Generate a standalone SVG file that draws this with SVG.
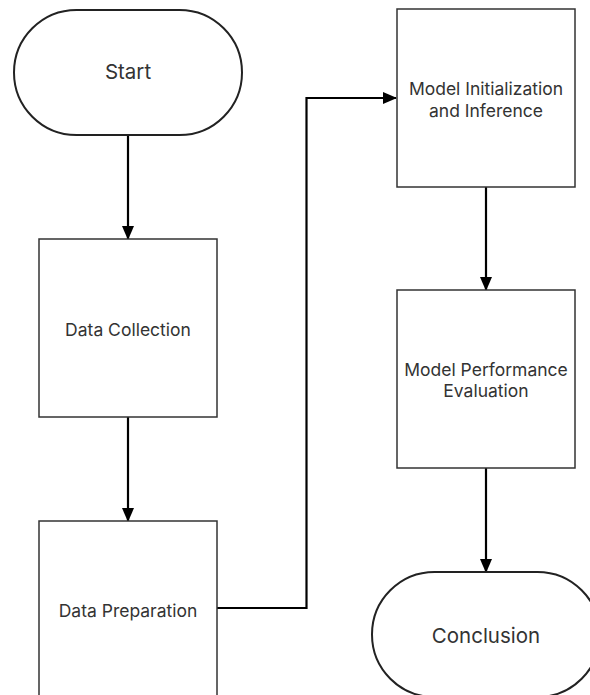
<svg xmlns="http://www.w3.org/2000/svg" width="590" height="695" viewBox="0 0 590 695">
  <style>
    .shape { fill: #ffffff; stroke: #333333; stroke-width: 1.5; }
    .term { fill: #ffffff; stroke: #222222; stroke-width: 2; }
    .label { font-family: Inter, "Liberation Sans", sans-serif; font-size: 17.5px; fill: #333333; text-anchor: middle; }
    .big { font-size: 20.5px; }
    .edge { fill: none; stroke: #000000; stroke-width: 2.2; }
  </style>
  <defs>
    <marker id="arrow" viewBox="0 0 14 12" refX="13" refY="6" markerWidth="14" markerHeight="12" markerUnits="userSpaceOnUse" orient="auto">
      <path d="M0,0 L14,6 L0,12 Z" fill="#000000"/>
    </marker>
  </defs>
  <rect width="590" height="695" fill="#ffffff"/>

  <g id="connectors">
    <path class="edge" d="M128,135 L128,239" marker-end="url(#arrow)"/>
    <path class="edge" d="M128,417 L128,521" marker-end="url(#arrow)"/>
    <path class="edge" d="M217,608 L306.5,608 L306.5,98 L396,98" marker-end="url(#arrow)"/>
    <path class="edge" d="M486,187 L486,290" marker-end="url(#arrow)"/>
    <path class="edge" d="M486,468 L486,572" marker-end="url(#arrow)"/>
  </g>

  <g id="start">
    <rect class="term" x="14" y="10" width="228" height="125" rx="62.5" ry="62.5"/>
    <text class="label big" x="128" y="79">Start</text>
  </g>

  <g id="data-collection">
    <rect class="shape" x="39" y="239" width="178" height="178"/>
    <text class="label" x="128" y="336">Data Collection</text>
  </g>

  <g id="data-preparation">
    <rect class="shape" x="39" y="521" width="178" height="200"/>
    <text class="label" x="128" y="617">Data Preparation</text>
  </g>

  <g id="model-initialization">
    <rect class="shape" x="397" y="9" width="178" height="178"/>
    <text class="label" x="486" y="95">Model Initialization</text>
    <text class="label" x="486" y="117">and Inference</text>
  </g>

  <g id="model-evaluation">
    <rect class="shape" x="397" y="290" width="178" height="178"/>
    <text class="label" x="486" y="376">Model Performance</text>
    <text class="label" x="486" y="397">Evaluation</text>
  </g>

  <g id="conclusion">
    <rect class="term" x="372" y="572" width="228" height="125" rx="62.5" ry="62.5"/>
    <text class="label big" x="486" y="643">Conclusion</text>
  </g>
</svg>
